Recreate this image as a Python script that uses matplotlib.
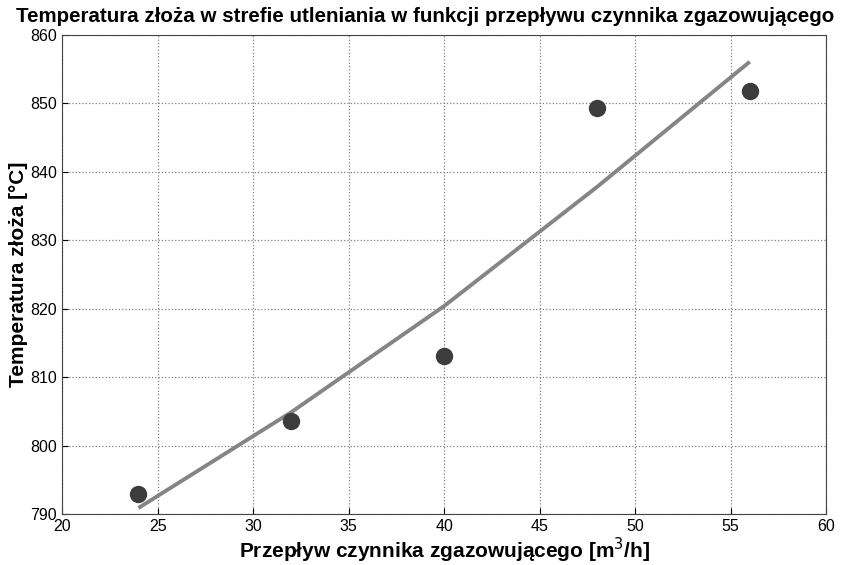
import matplotlib
matplotlib.use('Agg')
import matplotlib.pyplot as plt

plt.rcParams['font.family'] = ['Liberation Sans', 'DejaVu Sans']

# measured points
flow = [24, 32, 40, 48, 56]
temp = [792.9, 803.6, 813.1, 849.4, 851.8]
# fitted curve
fit_temp = [790.9, 804.9, 820.4, 837.8, 856.1]

fig = plt.figure(figsize=(8.5, 5.65), dpi=100)
ax = fig.add_axes([0.073, 0.090, 0.899, 0.848])

ax.plot(flow, fit_temp, color='#858585', linewidth=2.8, solid_capstyle='butt')
ax.plot(flow, temp, linestyle='none', marker='o', markersize=11.5,
        color='#3c3c3c', markeredgecolor='#3c3c3c')

ax.set_xlim(20, 60)
ax.set_ylim(790, 860)
ax.set_xticks(range(20, 61, 5))
ax.set_yticks(range(790, 861, 10))
ax.grid(True, linestyle=':', color='#808080', linewidth=0.9)
ax.tick_params(direction='in', labelsize=11.5, length=4)
for s in ax.spines.values():
    s.set_color('#444444')

fig.text(0.5, 1 - 16 / 565, 'Temperatura złoża w strefie utleniania w funkcji przepływu czynnika zgazowującego',
         ha='center', va='center', fontsize=14.8, fontweight='bold')
ax.set_xlabel('Przepływ czynnika zgazowującego [m$^3$/h]', fontsize=15, fontweight='bold', labelpad=1)
ax.set_ylabel('Temperatura złoża [°C]', fontsize=15, fontweight='bold', labelpad=2)

fig.savefig('out.png', dpi=100)
